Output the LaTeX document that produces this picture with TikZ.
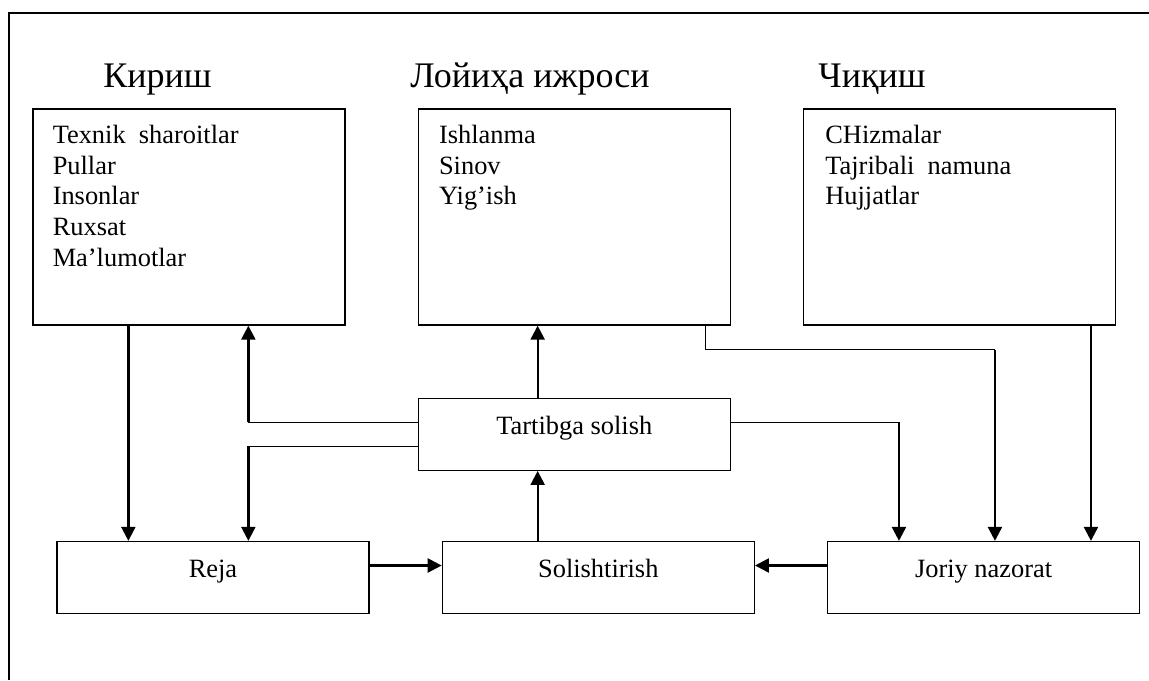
\documentclass[tikz,border=0pt]{standalone}
\usepackage{fontspec}
\setmainfont{Liberation Serif}
\usetikzlibrary{positioning,arrows.meta}

\tikzset{
  bigbox/.style={rectangle, draw, line width=0.65pt, minimum width=156pt, minimum height=108pt, inner sep=0pt},
  smallbox/.style={rectangle, draw, line width=0.65pt, minimum width=156pt, minimum height=36pt, text height=4pt, text depth=4pt, font=\fontsize{13.2}{15}\selectfont},
  head/.style={anchor=base west, inner sep=0pt, font=\fontsize{18}{22}\selectfont},
  item/.style={anchor=base west, inner sep=0pt, font=\fontsize{13.2}{15}\selectfont},
  arr/.style={-{Triangle[length=7pt,width=7pt]}, line width=1.15pt},
  wire/.style={line width=0.65pt},
}

\begin{document}
\begin{tikzpicture}[x=0.5pt, y=-0.5pt, node distance=36pt]
    \useasboundingbox (0,0) rectangle (1149,680);

    % outer frame
    \draw[line width=0.8pt] (9,680) -- (9,13) -- (1149,13);

    % headings
    \node (hkirish) [head] at (103,87) {Кириш};
    \node (hloyiha) [head] at (410,87) {Лойиҳа ижроси};
    \node (hchiqish) [head] at (818,87) {Чиқиш};

    % upper boxes
    \node (kirish) [bigbox] at (189,217) {};
    \node (loyiha) [bigbox, right=of kirish] {};
    \node (chiqish) [bigbox, right=of loyiha] {};

    % box contents
    \foreach \t [count=\i] in {Texnik\ \ sharoitlar, Pullar, Insonlar, Ruxsat, Ma’lumotlar}
        \node (kirish\i) [item] at ([xshift=10pt, yshift={-17.5pt-(\i-1)*15.4pt}]kirish.north west) {\t};
    \foreach \t [count=\i] in {Ishlanma, Sinov, Yig’ish}
        \node (loyiha\i) [item] at ([xshift=10.5pt, yshift={-17.5pt-(\i-1)*15.4pt}]loyiha.north west) {\t};
    \foreach \t [count=\i] in {CHizmalar, Tajribali\ \ namuna, Hujjatlar}
        \node (chiqish\i) [item] at ([xshift=11pt, yshift={-17.5pt-(\i-1)*15.4pt}]chiqish.north west) {\t};

    % middle and lower boxes
    \node (tart) [smallbox, below=of loyiha] {Tartibga solish};
    \node (reja) [smallbox] at (213,577.5) {Reja};
    \node (solish) [smallbox, right=of reja] {Solishtirish};
    \node (joriy) [smallbox, right=of solish] {Joriy nazorat};

    % points where connectors meet the boxes
    \coordinate (k1) at ([xshift=48pt]kirish.south west);
    \coordinate (k2) at ([xshift=108pt]kirish.south west);
    \coordinate (l1) at ([xshift=144pt]loyiha.south west);
    \coordinate (l2) at ([yshift=-12pt]l1);
    \coordinate (c1) at ([xshift=144pt]chiqish.south west);
    \coordinate (tw1) at ([yshift=6pt]tart.west);
    \coordinate (tw2) at ([yshift=-6pt]tart.west);
    \coordinate (te1) at ([yshift=6pt]tart.east);
    \coordinate (s1) at ([xshift=48pt]solish.north west);
    \coordinate (j1) at ([xshift=36pt]joriy.north west);
    \coordinate (j2) at ([xshift=84pt]joriy.north west);
    \coordinate (rs) at ([yshift=6pt]reja.east);
    \coordinate (js) at ([yshift=6pt]joriy.west);

    % connectors
    \draw[arr] (k1) -- (k1 |- reja.north);
    \draw[wire] (tw1) -- (tw1 -| k2);
    \draw[arr] (tw1 -| k2) -- (k2);
    \draw[wire] (tw2) -- (tw2 -| k2);
    \draw[arr] (tw2 -| k2) -- (k2 |- reja.north);
    \draw[arr] (tart.north -| s1) -- (loyiha.south -| s1);
    \draw[arr] (s1) -- (tart.south -| s1);
    \draw[wire] (te1) -- (te1 -| j1);
    \draw[arr] (te1 -| j1) -- (j1);
    \draw[wire] (l1) -- (l2) -- (l2 -| j2);
    \draw[arr] (l2 -| j2) -- (j2);
    \draw[arr] (c1) -- (c1 |- joriy.north);
    \draw[arr] (rs) -- (rs -| solish.west);
    \draw[arr] (js) -- (js -| solish.east);

\end{tikzpicture}
\end{document}
